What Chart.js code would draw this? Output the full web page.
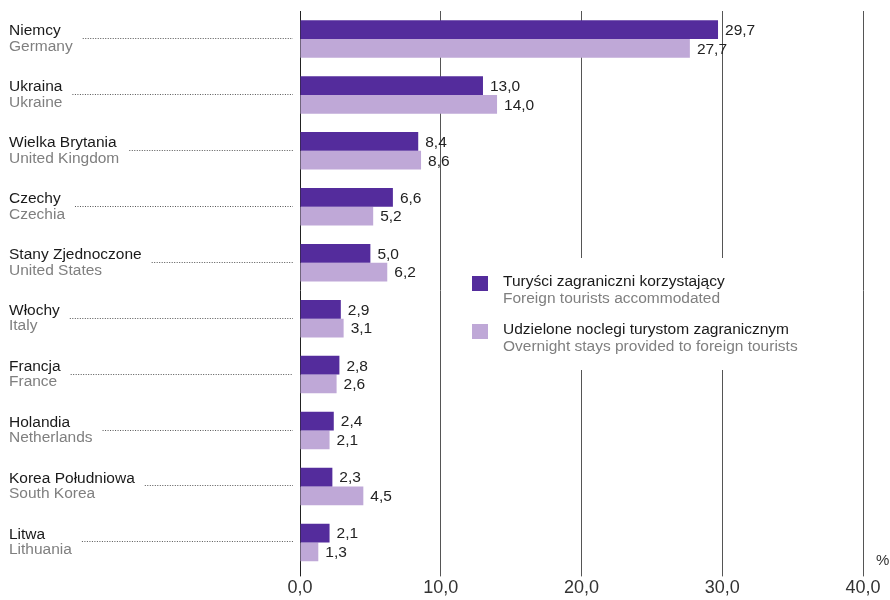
<!DOCTYPE html>
<html lang="pl">
<head>
<meta charset="UTF-8">
<title>Turyści zagraniczni</title>
<script src="https://cdn.jsdelivr.net/npm/chart.js"></script>
<style>
  html, body { margin: 0; padding: 0; background: #fff; }
  #wrap { position: relative; width: 890px; height: 600px; }
</style>
</head>
<body>
<div id="wrap"><canvas id="chartTurysci"></canvas></div>
<script>
// dane
var krajePL = ["Niemcy", "Ukraina", "Wielka Brytania", "Czechy", "Stany Zjednoczone", "Włochy", "Francja", "Holandia", "Korea Południowa", "Litwa"];
var krajeEN = ["Germany", "Ukraine", "United Kingdom", "Czechia", "United States", "Italy", "France", "Netherlands", "South Korea", "Lithuania"];
var turysci = [29.7, 13.0, 8.4, 6.6, 5.0, 2.9, 2.8, 2.4, 2.3, 2.1];
var noclegi = [27.7, 14.0, 8.6, 5.2, 6.2, 3.1, 2.6, 2.1, 4.5, 1.3];
var osX = [0, 10, 20, 30, 40];
var legendaPL = ["Turyści zagraniczni korzystający", "Udzielone noclegi turystom zagranicznym"];
var legendaEN = ["Foreign tourists accommodated", "Overnight stays provided to foreign tourists"];

var ciemny = "#542c9c";
var jasny = "#bfa8d7";
var font = "'Liberation Sans', Arial, sans-serif";

function fmt(v) {
  return v.toFixed(1).replace(".", ",");
}

// etykiety krajow po lewej + kropkowane linie
var etykietyLewe = {
  id: "etykietyLewe",
  afterDraw: function (chart) {
    var ctx = chart.ctx;
    var y = chart.scales.y;
    var left = chart.chartArea.left;
    ctx.save();
    ctx.font = "15.5px " + font;
    ctx.textBaseline = "middle";
    ctx.textAlign = "left";
    for (var i = 0; i < krajePL.length; i++) {
      var cy = y.getPixelForValue(i);
      ctx.fillStyle = "#1a1a1a";
      ctx.fillText(krajePL[i], 9, cy - 8);
      ctx.fillStyle = "#7f7f7f";
      ctx.fillText(krajeEN[i], 9, cy + 7.5);
      var w = Math.max(ctx.measureText(krajePL[i]).width, ctx.measureText(krajeEN[i]).width);
      ctx.beginPath();
      ctx.setLineDash([1, 1.5]);
      ctx.strokeStyle = "#555";
      ctx.lineWidth = 1;
      ctx.moveTo(9 + w + 10, Math.round(cy) - 0.5);
      ctx.lineTo(left - 7, Math.round(cy) - 0.5);
      ctx.stroke();
      ctx.setLineDash([]);
    }
    ctx.restore();
  }
};

// wartosci przy slupkach
var wartosci = {
  id: "wartosci",
  afterDatasetsDraw: function (chart) {
    var ctx = chart.ctx;
    ctx.save();
    ctx.font = "15.5px " + font;
    ctx.fillStyle = "#222";
    ctx.textBaseline = "middle";
    ctx.textAlign = "left";
    chart.data.datasets.forEach(function (ds, d) {
      var meta = chart.getDatasetMeta(d);
      meta.data.forEach(function (bar, i) {
        ctx.fillText(fmt(ds.data[i]), bar.x + 7, bar.y + 1);
      });
    });
    ctx.restore();
  }
};

// legenda i znak %
var legendaWlasna = {
  id: "legendaWlasna",
  afterDraw: function (chart) {
    var ctx = chart.ctx;
    var kolory = [ciemny, jasny];
    var top = [276, 324];
    ctx.save();
    // tlo legendy przerywa linie siatki
    ctx.fillStyle = "#fff";
    ctx.fillRect(464, 258, 356, 112);
    ctx.font = "15.5px " + font;
    ctx.textBaseline = "middle";
    ctx.textAlign = "left";
    for (var i = 0; i < 2; i++) {
      ctx.fillStyle = kolory[i];
      ctx.fillRect(472, top[i], 16, 15);
      ctx.fillStyle = "#1a1a1a";
      ctx.fillText(legendaPL[i], 503, top[i] + 6);
      ctx.fillStyle = "#7f7f7f";
      ctx.fillText(legendaEN[i], 503, top[i] + 23);
    }
    ctx.fillStyle = "#333";
    ctx.font = "15px " + font;
    ctx.fillText("%", 876, 561);
    ctx.restore();
  }
};

var ctxT = document.getElementById("chartTurysci");

var wykres = new Chart(ctxT, {
  type: "bar",
  data: {
    labels: krajePL,
    datasets: [
      { label: legendaPL[0], data: turysci, backgroundColor: ciemny, borderWidth: 0 },
      { label: legendaPL[1], data: noclegi, backgroundColor: jasny, borderWidth: 0 }
    ]
  },
  options: {
    indexAxis: "y",
    responsive: true,
    maintainAspectRatio: false,
    animation: false,
    events: [],
    categoryPercentage: 0.67,
    barPercentage: 1.0,
    layout: { padding: { left: 300, right: 27, top: 11, bottom: 0 } },
    plugins: {
      legend: { display: false },
      tooltip: { enabled: false }
    },
    scales: {
      y: { display: false },
      x: {
        min: 0,
        max: 40,
        afterBuildTicks: function (axis) {
          axis.ticks = osX.map(function (v) { return { value: v }; });
        },
        border: { display: false },
        grid: {
          color: function (c) { return c.index === 0 ? "#222" : "#555"; },
          lineWidth: 1,
          drawTicks: true,
          tickLength: 6
        },
        ticks: {
          padding: 1,
          color: "#333",
          font: { family: font, size: 18 },
          callback: function (v) { return fmt(v); }
        }
      }
    }
  },
  plugins: [etykietyLewe, wartosci, legendaWlasna]
});
</script>
</body>
</html>
